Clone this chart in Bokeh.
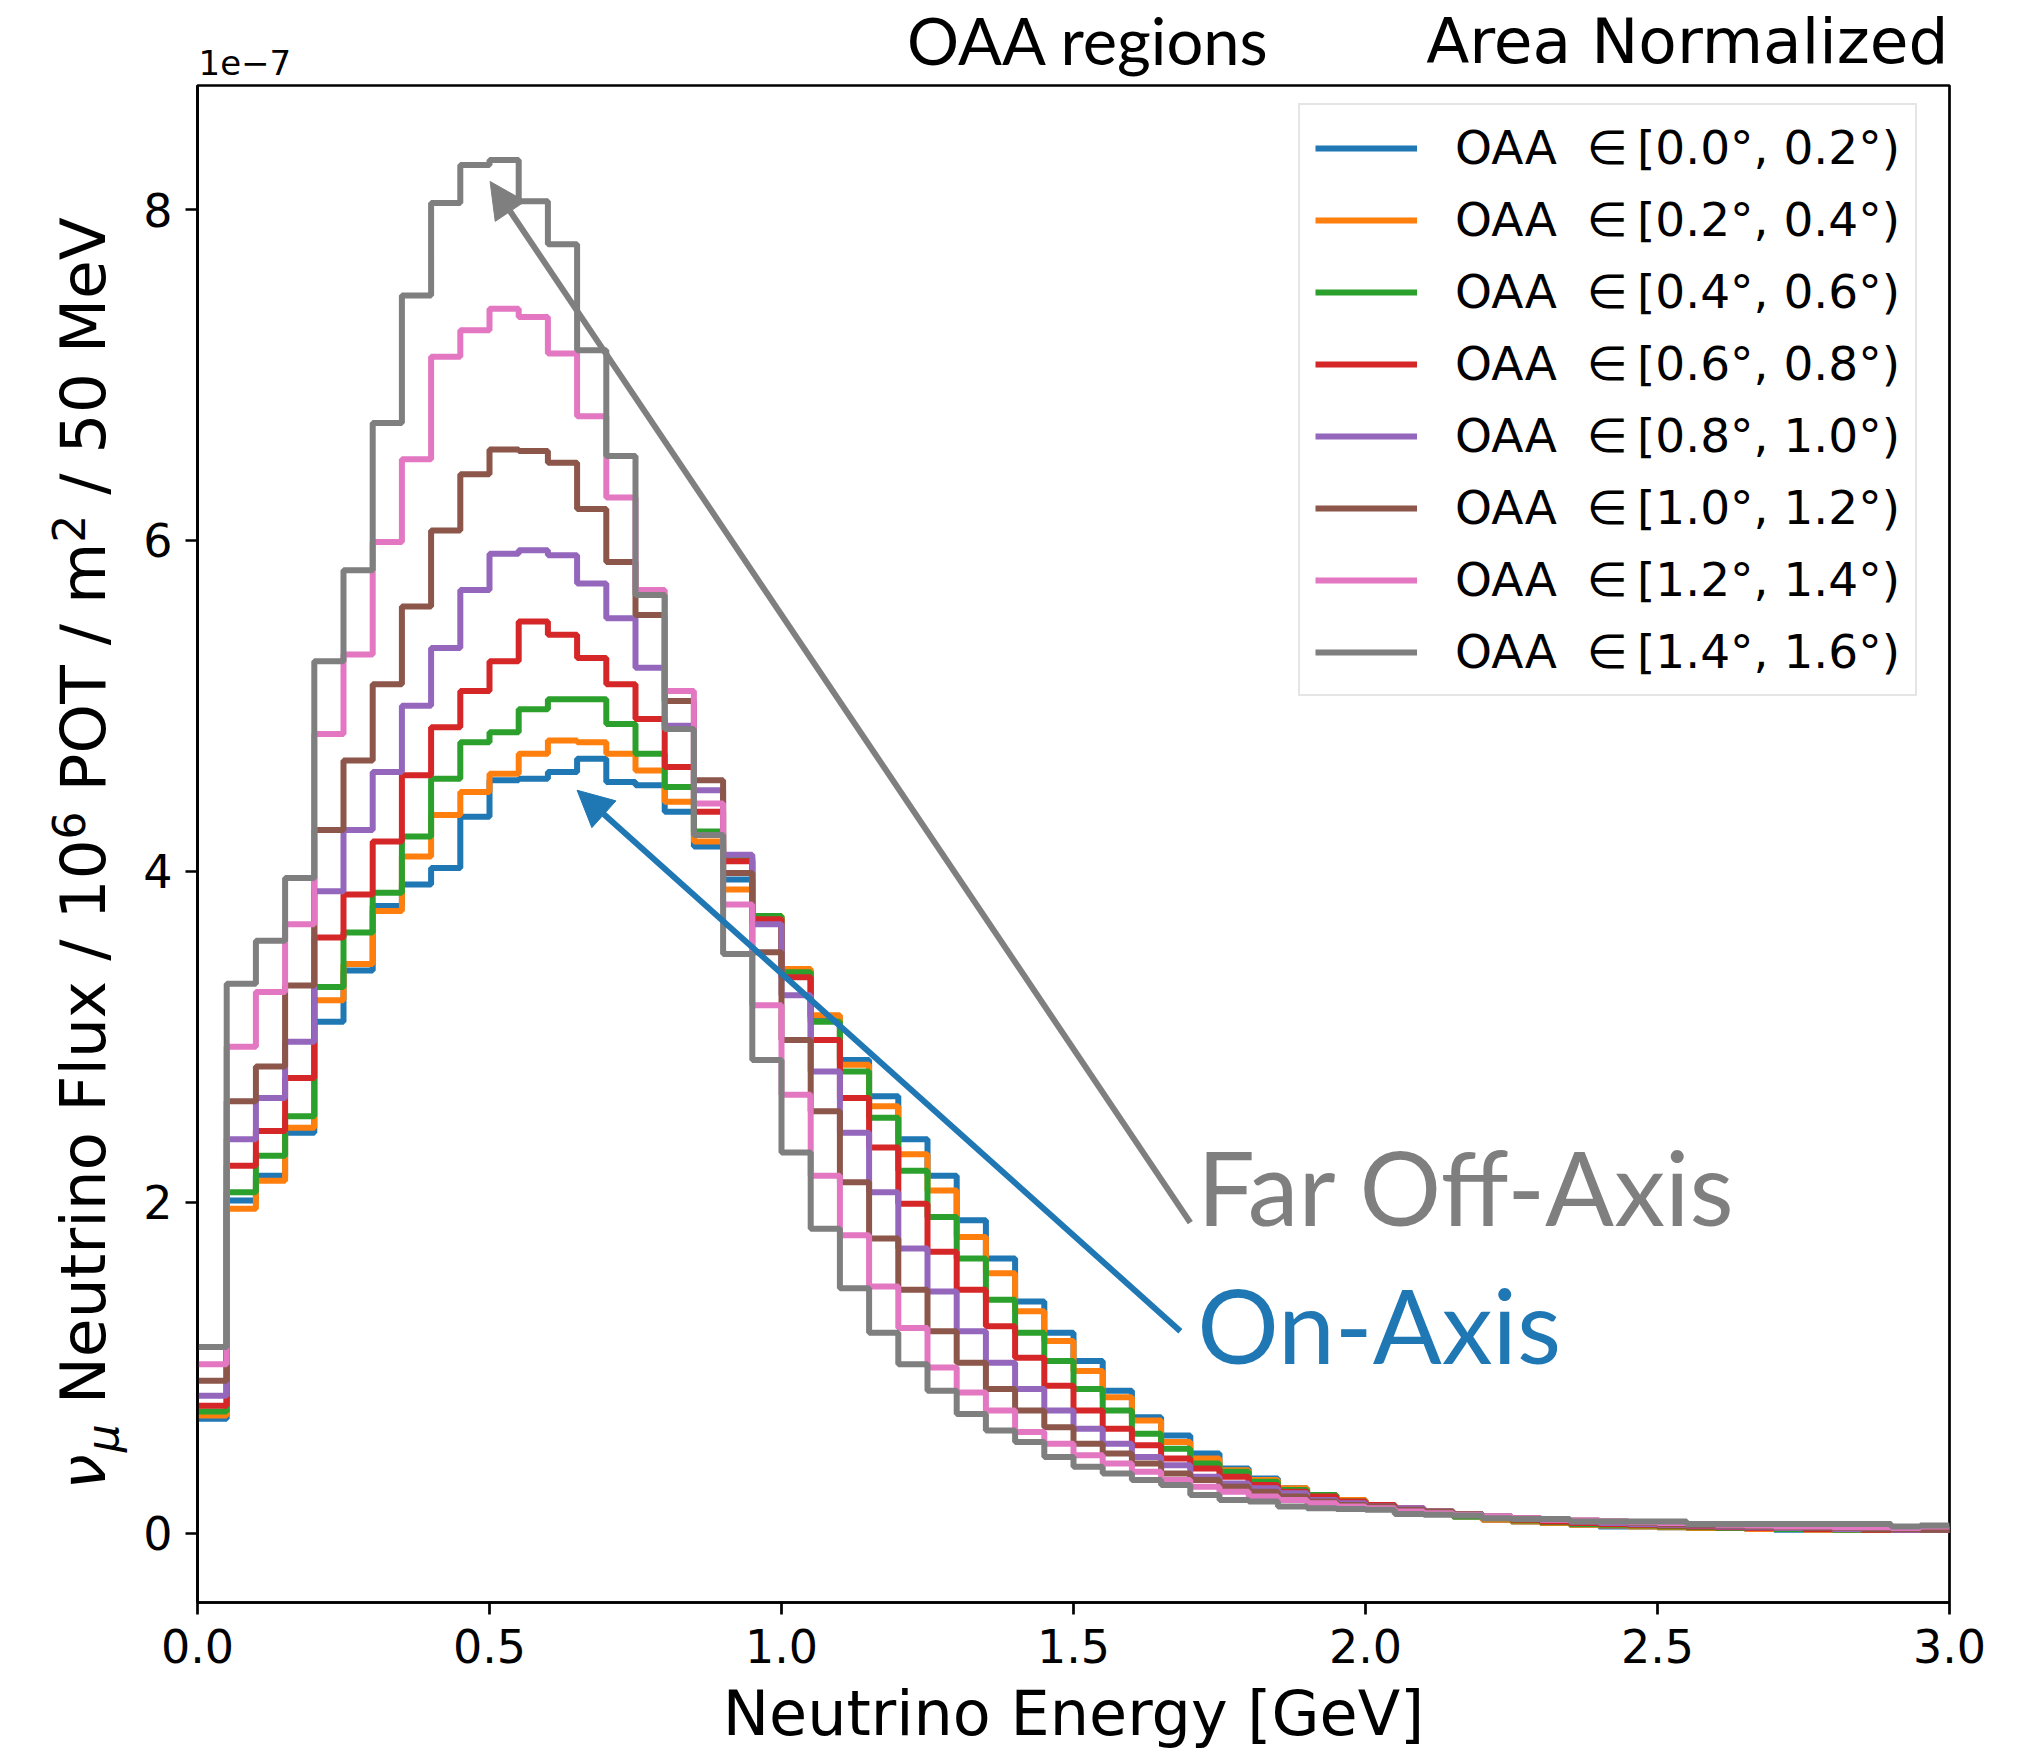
from math import pi
from bokeh.plotting import figure
from bokeh.layouts import column, row
from bokeh.models import (Range1d, Legend, LegendItem, Arrow, NormalHead,
                          FixedTicker, PrintfTickFormatter)
from bokeh.core.properties import value
from bokeh.embed import file_html
from bokeh.resources import INLINE

# ---------------- data (flux in units of 1e-7, 50 MeV bins from 0 to 3 GeV) ----------------
bin_width = 0.05
n_bins = 60
bin_edges = [round(i * bin_width, 2) for i in range(n_bins + 1)]

series_labels = [
    "OAA\u00a0\u00a0\u2208\u2009[0.0°,\u00a00.2°)",
    "OAA\u00a0\u00a0\u2208\u2009[0.2°,\u00a00.4°)",
    "OAA\u00a0\u00a0\u2208\u2009[0.4°,\u00a00.6°)",
    "OAA\u00a0\u00a0\u2208\u2009[0.6°,\u00a00.8°)",
    "OAA\u00a0\u00a0\u2208\u2009[0.8°,\u00a01.0°)",
    "OAA\u00a0\u00a0\u2208\u2009[1.0°,\u00a01.2°)",
    "OAA\u00a0\u00a0\u2208\u2009[1.2°,\u00a01.4°)",
    "OAA\u00a0\u00a0\u2208\u2009[1.4°,\u00a01.6°)",
]
series_colors = ["#1f77b4", "#ff7f0e", "#2ca02c", "#d62728",
                 "#9467bd", "#8c564b", "#e377c2", "#7f7f7f"]

oaa_00_02 = [0.69, 2.01, 2.16, 2.42, 3.09, 3.40, 3.79, 3.92, 4.02, 4.33,
             4.55, 4.56, 4.60, 4.68, 4.54, 4.52, 4.36, 4.15, 3.95, 3.72,
             3.40, 3.12, 2.86, 2.64, 2.38, 2.16, 1.89, 1.66, 1.40, 1.21,
             1.04, 0.86, 0.70, 0.59, 0.48, 0.39, 0.33, 0.27, 0.23, 0.20,
             0.17, 0.14, 0.12, 0.10, 0.08, 0.07, 0.06, 0.05, 0.04, 0.04,
             0.035, 0.03, 0.03, 0.025, 0.02, 0.02, 0.02, 0.02, 0.02, 0.02]
oaa_02_04 = [0.71, 1.96, 2.13, 2.45, 3.22, 3.44, 3.76, 4.09, 4.34, 4.48,
             4.59, 4.71, 4.79, 4.78, 4.71, 4.61, 4.42, 4.18, 3.89, 3.73,
             3.41, 3.13, 2.83, 2.58, 2.29, 2.07, 1.79, 1.57, 1.34, 1.16,
             0.98, 0.82, 0.68, 0.55, 0.45, 0.38, 0.32, 0.27, 0.23, 0.20,
             0.17, 0.14, 0.12, 0.10, 0.08, 0.07, 0.06, 0.05, 0.045, 0.04,
             0.035, 0.03, 0.03, 0.025, 0.025, 0.02, 0.02, 0.02, 0.02, 0.02]
oaa_04_06 = [0.735, 2.06, 2.28, 2.52, 3.30, 3.63, 3.87, 4.21, 4.56, 4.78,
             4.84, 4.98, 5.04, 5.04, 4.89, 4.71, 4.51, 4.24, 4.08, 3.73,
             3.39, 3.09, 2.79, 2.51, 2.19, 1.91, 1.66, 1.41, 1.21, 1.04,
             0.87, 0.74, 0.60, 0.51, 0.42, 0.37, 0.31, 0.26, 0.23, 0.19,
             0.17, 0.14, 0.12, 0.10, 0.09, 0.075, 0.065, 0.055, 0.05, 0.045,
             0.04, 0.035, 0.03, 0.03, 0.025, 0.025, 0.02, 0.02, 0.02, 0.02]
oaa_06_08 = [0.77, 2.22, 2.43, 2.75, 3.60, 3.86, 4.18, 4.58, 4.87, 5.09,
             5.27, 5.51, 5.43, 5.29, 5.13, 4.92, 4.63, 4.36, 4.06, 3.71,
             3.36, 2.98, 2.63, 2.33, 1.99, 1.70, 1.47, 1.25, 1.06, 0.89,
             0.74, 0.63, 0.53, 0.45, 0.39, 0.34, 0.29, 0.25, 0.22, 0.19,
             0.17, 0.15, 0.13, 0.11, 0.095, 0.08, 0.07, 0.06, 0.055, 0.05,
             0.045, 0.04, 0.035, 0.03, 0.03, 0.025, 0.025, 0.02, 0.02, 0.02]
oaa_08_10 = [0.83, 2.38, 2.63, 2.97, 3.88, 4.25, 4.60, 5.00, 5.35, 5.70,
             5.92, 5.94, 5.91, 5.74, 5.53, 5.23, 4.88, 4.49, 4.10, 3.68,
             3.25, 2.79, 2.42, 2.06, 1.72, 1.46, 1.22, 1.03, 0.87, 0.74,
             0.63, 0.54, 0.46, 0.41, 0.34, 0.30, 0.27, 0.24, 0.20, 0.18,
             0.16, 0.15, 0.13, 0.115, 0.10, 0.09, 0.08, 0.07, 0.06, 0.055,
             0.05, 0.045, 0.04, 0.035, 0.03, 0.03, 0.025, 0.025, 0.02, 0.02]
oaa_10_12 = [0.92, 2.61, 2.82, 3.31, 4.25, 4.67, 5.13, 5.60, 6.06, 6.40,
             6.55, 6.54, 6.47, 6.19, 5.87, 5.55, 5.03, 4.55, 3.99, 3.51,
             2.98, 2.55, 2.12, 1.78, 1.47, 1.22, 1.03, 0.87, 0.74, 0.64,
             0.54, 0.48, 0.42, 0.36, 0.32, 0.28, 0.25, 0.22, 0.19, 0.17,
             0.16, 0.14, 0.13, 0.115, 0.10, 0.09, 0.08, 0.075, 0.07, 0.06,
             0.055, 0.05, 0.045, 0.04, 0.035, 0.03, 0.03, 0.025, 0.025, 0.02]
oaa_12_14 = [1.02, 2.94, 3.27, 3.68, 4.83, 5.31, 5.99, 6.49, 7.11, 7.27,
             7.40, 7.35, 7.13, 6.75, 6.26, 5.70, 5.09, 4.41, 3.80, 3.19,
             2.65, 2.16, 1.80, 1.49, 1.24, 1.00, 0.85, 0.74, 0.61, 0.54,
             0.47, 0.42, 0.37, 0.32, 0.28, 0.25, 0.22, 0.20, 0.18, 0.16,
             0.15, 0.13, 0.12, 0.11, 0.10, 0.09, 0.08, 0.075, 0.07, 0.065,
             0.06, 0.055, 0.05, 0.045, 0.04, 0.04, 0.035, 0.035, 0.03, 0.04]
oaa_14_16 = [1.125, 3.32, 3.58, 3.96, 5.27, 5.82, 6.71, 7.48, 8.04, 8.27,
             8.30, 8.05, 7.79, 7.15, 6.51, 5.67, 4.86, 4.22, 3.50, 2.86,
             2.30, 1.84, 1.48, 1.21, 1.02, 0.86, 0.72, 0.62, 0.55, 0.46,
             0.40, 0.36, 0.32, 0.29, 0.23, 0.20, 0.19, 0.16, 0.15, 0.145,
             0.14, 0.115, 0.11, 0.106, 0.09, 0.084, 0.084, 0.07, 0.07, 0.07,
             0.07, 0.055, 0.055, 0.055, 0.055, 0.055, 0.055, 0.055, 0.04, 0.046]

series_values = [oaa_00_02, oaa_02_04, oaa_04_06, oaa_06_08,
                 oaa_08_10, oaa_10_12, oaa_12_14, oaa_14_16]

x_ticks = [0.0, 0.5, 1.0, 1.5, 2.0, 2.5, 3.0]
y_ticks = [0, 2, 4, 6, 8]

# annotation arrows: (x_start, y_start, x_tip, y_tip) in data units
far_arrow = (1.70, 1.876, 0.501, 8.17)
on_arrow = (1.683, 1.22, 0.650, 4.49)
far_text_base = (1.712, 1.856)   # left / baseline of text
on_text_base = (1.712, 1.02)

# font metric helpers: offset from baseline to centre of text box (em units)
MID_LATO = 0.387
MID_DEJAVU = 0.346

TICK_FONT = "DejaVu Sans"
LINE_W = 6

# ---------------- layout sizes ----------------
W_TOTAL = 2039
TOP_H = 82
LEFT_W = 135
FRAME_W, FRAME_H = 1752, 1517
FRAME_TOP, FRAME_BOTTOM = 85, 1602          # full-canvas y of the frame edges
MAIN_BORDER_L = 197 - LEFT_W
MAIN_BORDER_T = FRAME_TOP - TOP_H
MAIN_BORDER_B = 150


def blank_fig(w, h, **kw):
    f = figure(x_range=Range1d(0, w), y_range=Range1d(0, h),
               x_axis_location=None, y_axis_location=None,
               output_backend="svg", toolbar_location=None, **kw)
    f.title.visible = False
    f.grid.visible = False
    f.outline_line_color = None
    f.background_fill_color = "white"
    f.border_fill_color = "white"
    return f


# ---------------- main figure ----------------
p = figure(frame_width=FRAME_W, frame_height=FRAME_H,
           min_border_left=MAIN_BORDER_L, min_border_right=90,
           min_border_top=MAIN_BORDER_T, min_border_bottom=MAIN_BORDER_B,
           x_range=Range1d(0, 3), y_range=Range1d(-0.42, 8.75),
           output_backend="svg", toolbar_location=None)
p.title.visible = False
p.background_fill_color = "white"
p.border_fill_color = "white"
p.xgrid.visible = False
p.ygrid.visible = False
p.outline_line_color = "black"
p.outline_line_width = 2.7

for ax in (p.xaxis[0], p.yaxis[0]):
    ax.axis_line_width = 2.7
    ax.major_tick_line_width = 2.7
    ax.major_tick_out = 12
    ax.major_tick_in = 0
    ax.minor_tick_line_color = None
    ax.major_label_text_font = TICK_FONT
    ax.major_label_text_font_size = "46px"
    ax.major_label_text_color = "black"

p.xaxis[0].ticker = FixedTicker(ticks=x_ticks)
p.xaxis[0].formatter = PrintfTickFormatter(format="%.1f")
p.xaxis[0].major_label_standoff = 14
p.xaxis[0].axis_label = "Neutrino Energy [GeV]"
p.xaxis[0].axis_label_text_font = TICK_FONT
p.xaxis[0].axis_label_text_font_size = "62px"
p.xaxis[0].axis_label_text_font_style = "normal"
p.xaxis[0].axis_label_text_color = "black"
p.xaxis[0].axis_label_standoff = 11
p.yaxis[0].ticker = FixedTicker(ticks=y_ticks)
p.yaxis[0].major_label_standoff = 13
p.yaxis[0].axis_label = None

items = []
for vals, col, lab in zip(series_values, series_colors, series_labels):
    ys = list(vals) + [vals[-1]]
    r = p.step(x=bin_edges, y=ys, mode="after", line_color=col, line_width=LINE_W)
    items.append(LegendItem(label=lab, renderers=[r]))

legend = Legend(items=items, location=(1101, 906),
                glyph_width=102, glyph_height=50, label_height=50,
                label_standoff=38, spacing=17, padding=15, margin=0,
                label_text_font=TICK_FONT, label_text_font_size="47px",
                label_text_color="black", label_text_baseline="middle",
                border_line_color="#cccccc", border_line_width=2.5,
                background_fill_color="white", background_fill_alpha=0.85)
p.add_layout(legend, "center")

for (xs, ys_, xe, ye), col in ((far_arrow, "#7f7f7f"), (on_arrow, "#1f77b4")):
    p.add_layout(Arrow(end=NormalHead(size=36, fill_color=col, line_color=col, line_width=1),
                       x_start=xs, y_start=ys_, x_end=xe, y_end=ye,
                       line_color=col, line_width=LINE_W))

# annotation texts (data units); centre-anchored, shifted so the baseline matches
ANN_SIZE = 102
px_per_unit = FRAME_H / (8.75 + 0.42)
ann_shift = MID_LATO * ANN_SIZE / px_per_unit
p.text(x=[far_text_base[0]], y=[far_text_base[1] + ann_shift], text=["Far Off-Axis"],
       text_font=value("Lato"), text_font_size=f"{ANN_SIZE}px", text_color="#7f7f7f",
       text_align="left", text_baseline="middle")
p.text(x=[on_text_base[0]], y=[on_text_base[1] + ann_shift], text=["On-Axis"],
       text_font=value("Lato"), text_font_size=f"{ANN_SIZE}px", text_color="#1f77b4",
       text_align="left", text_baseline="middle")

# ---------------- top strip: title texts ----------------
top = blank_fig(W_TOTAL, TOP_H, width=W_TOTAL, height=TOP_H, min_border=0)
def top_text(x, base_y_full, txt, size, font, mid, align):
    y = (TOP_H - base_y_full) + mid * size
    top.text(x=[x], y=[y], text=[txt], text_font=value(font), text_font_size=f"{size}px",
             text_align=align, text_baseline="middle", text_color="black")

top_text(1088, 65, "OAA regions", 65, "Lato", MID_LATO, "center")
top_text(1948, 63, "Area Normalized", 63, TICK_FONT, MID_DEJAVU, "right")
top_text(198, 74, "1e\u22127", 34, TICK_FONT, MID_DEJAVU, "left")

# ---------------- left strip: rotated y-axis label with sub/superscripts ----------------
# its frame is aligned with the main frame (same top/bottom borders); y in px above frame bottom
left = blank_fig(LEFT_W, FRAME_H, frame_width=LEFT_W, frame_height=FRAME_H,
                 min_border_left=0, min_border_right=0,
                 min_border_top=MAIN_BORDER_T, min_border_bottom=MAIN_BORDER_B)
ADV = {" ": 651, "N": 1532, "e": 1260, "u": 1298, "t": 803, "r": 842, "i": 569,
       "n": 1298, "o": 1253, "F": 1178, "l": 569, "x": 1212, "/": 690, "1": 1303,
       "0": 1303, "6": 1303, "P": 1235, "O": 1612, "T": 1251, "m": 1995, "2": 1303,
       "5": 1303, "M": 1767, "V": 1401, "\u03bd": 1212, "\u03bc": 1300}

def adv(s, size):
    return sum(ADV.get(c, 1300) for c in s) / 2048.0 * size

YL_SIZE, YL_SMALL = 63, 44
baseline_x = 105                      # full-canvas x of the label baseline
pos = FRAME_BOTTOM - 1489             # start (bottom) of the label, px above frame bottom
pieces = [("\u03bd", YL_SIZE, 0, "italic"),
          ("\u03bc", YL_SMALL, 12, "italic"),
          (" Neutrino Flux / 10", YL_SIZE, 0, "normal"),
          ("6", YL_SMALL, -22, "normal"),
          (" POT / m", YL_SIZE, 0, "normal"),
          ("2", YL_SMALL, -22, "normal"),
          (" / 50 MeV", YL_SIZE, 0, "normal")]
for txt, sz, shift, st in pieces:
    ax_x = baseline_x + shift - MID_DEJAVU * sz
    left.text(x=[ax_x], y=[pos], text=[txt.replace(" ", "\u00a0")],
              text_font=value(TICK_FONT), text_font_size=f"{sz}px",
              text_font_style=st, text_align="left", text_baseline="middle",
              angle=pi / 2, text_color="black")
    pos += adv(txt, sz)

layout = column(top, row(left, p, spacing=0), spacing=0)
open("out.html", "w").write(file_html(layout, INLINE))
